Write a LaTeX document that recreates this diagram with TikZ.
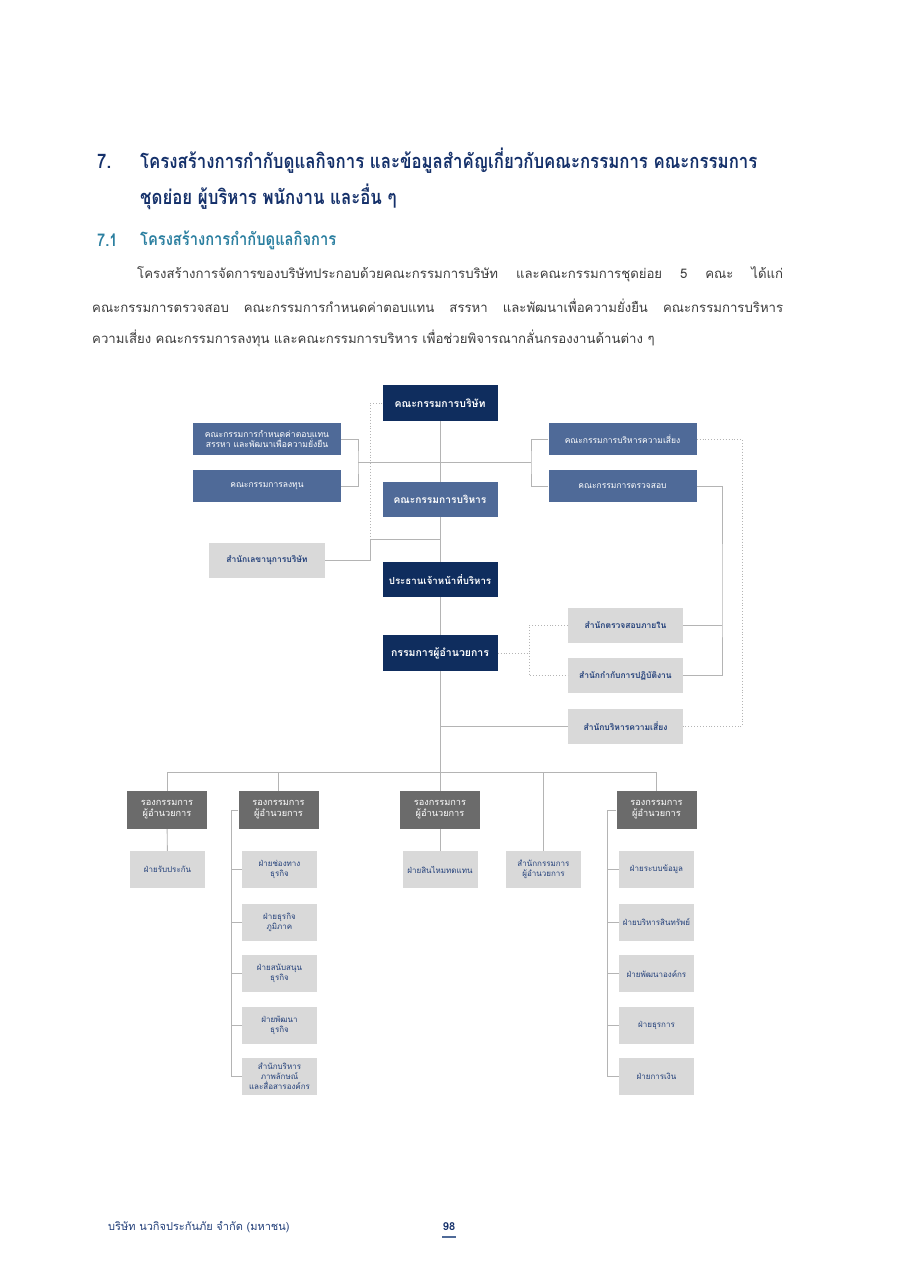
\documentclass[tikz,border=0pt]{standalone}
\usepackage{fontspec}
\setmainfont{Loma}[Script=Thai]
\newfontfamily\headfont{Loma}[Script=Thai, FakeStretch=0.84]
\usepackage{tikz}
\usetikzlibrary{calc,positioning}
\definecolor{navy}{HTML}{0F2D5E}
\definecolor{steel}{HTML}{4F6A98}
\definecolor{lightgrey}{HTML}{D9D9D9}
\definecolor{darkgrey}{HTML}{6B6B6B}
\definecolor{linegrey}{HTML}{B4B4B4}
\definecolor{headnavy}{HTML}{14306A}
\definecolor{subteal}{HTML}{2B7FA0}
\definecolor{bodytext}{HTML}{3C3C3C}
\definecolor{unittext}{HTML}{23407A}

\begin{document}
\begin{tikzpicture}[x=1pt, y=-1pt, every node/.style={align=center, inner sep=0pt},
  navybox/.style={fill=navy, text=white, font=\bfseries\fontsize{10.5}{12}\selectfont, minimum width=115pt, minimum height=36pt},
  steelbox/.style={fill=steel, text=white, font=\fontsize{8.5}{9}\selectfont, minimum width=148pt, minimum height=32pt},
  officebox/.style={fill=lightgrey, text=unittext, font=\bfseries\fontsize{8.5}{10}\selectfont, minimum width=115pt, minimum height=35pt},
  vpbox/.style={fill=darkgrey, text=white, font=\fontsize{9.2}{11}\selectfont, minimum width=80pt, minimum height=38pt},
  unitbox/.style={fill=lightgrey, text=unittext, font=\fontsize{8}{10}\selectfont, minimum width=75pt, minimum height=37pt},
  conn/.style={draw=linegrey, line width=0.9pt},
  dotconn/.style={draw=linegrey, line width=0.9pt, dotted}]
\fill[white] (0,0) rectangle (906,1280);
\useasboundingbox (0,0) rectangle (906,1280);

% heading and text
\node[anchor=west, text=headnavy, font=\headfont\bfseries\fontsize{20}{24}\selectfont] (h7) at (97,161) {7.};
\node[anchor=west, text=headnavy, font=\headfont\bfseries\fontsize{20}{24}\selectfont] (h7a) at (140,161) {โครงสร้างการกำกับดูแลกิจการ และข้อมูลสำคัญเกี่ยวกับคณะกรรมการ คณะกรรมการ};
\node[anchor=west, text=headnavy, font=\headfont\bfseries\fontsize{20}{24}\selectfont] (h7b) at (140,197) {ชุดย่อย ผู้บริหาร พนักงาน และอื่น ๆ};
\node[anchor=west, text=subteal, font=\headfont\bfseries\fontsize{17.5}{20}\selectfont] (h71) at (97,240) {7.1};
\node[anchor=west, text=subteal, font=\headfont\bfseries\fontsize{17.5}{20}\selectfont] (h71a) at (140,240) {โครงสร้างการกำกับดูแลกิจการ};
\node[anchor=west, text=bodytext, font=\fontsize{13.2}{15}\selectfont] (p1) at (137,274)
  {\makebox[646pt][s]{โครงสร้างการจัดการของบริษัทประกอบด้วยคณะกรรมการบริษัท และคณะกรรมการชุดย่อย  5 คณะ ได้แก่}};
\node[anchor=west, text=bodytext, font=\fontsize{13.2}{15}\selectfont] (p2) at (92,306)
  {\makebox[691pt][s]{คณะกรรมการตรวจสอบ คณะกรรมการกำหนดค่าตอบแทน สรรหา และพัฒนาเพื่อความยั่งยืน คณะกรรมการบริหาร}};
\node[anchor=west, text=bodytext, font=\fontsize{13.2}{15}\selectfont] (p3) at (92,338)
  {ความเสี่ยง คณะกรรมการลงทุน และคณะกรรมการบริหาร เพื่อช่วยพิจารณากลั่นกรองงานด้านต่าง ๆ};

% board and committees
\node[navybox] (board) at (440,403) {คณะกรรมการบริษัท};
\node[steelbox, font=\fontsize{8.6}{8.8}\selectfont] (rem) at (267,439) {คณะกรรมการกำหนดค่าตอบแทน\\สรรหา และพัฒนาเพื่อความยั่งยืน};
\node[steelbox] (inv) at (267,486) {คณะกรรมการลงทุน};
\node[steelbox] (risk) at (622.5,439) {คณะกรรมการบริหารความเสี่ยง};
\node[steelbox] (audit) at (622.5,486) {คณะกรรมการตรวจสอบ};
\node[steelbox, font=\bfseries\fontsize{10.2}{12}\selectfont, minimum width=115pt, minimum height=35pt] (exec) at (440,499.5) {คณะกรรมการบริหาร};
\node[officebox, minimum width=116pt] (sec) at (267,560) {สำนักเลขานุการบริษัท};
\node[navybox, minimum height=35pt, font=\bfseries\fontsize{9.7}{12}\selectfont] (ceo) at (440,579.5) {ประธานเจ้าหน้าที่บริหาร};
\node[navybox] (md) at (440,653) {กรรมการผู้อำนวยการ};
\node[officebox] (ia) at (625.5,625.5) {สำนักตรวจสอบภายใน};
\node[officebox] (comp) at (625.5,675.5) {สำนักกำกับการปฏิบัติงาน};
\node[officebox] (rmo) at (625.5,726.5) {สำนักบริหารความเสี่ยง};

% deputy managing directors
\node[vpbox] (vp1) at (167,810) {รองกรรมการ\\ผู้อำนวยการ};
\node[vpbox] (vp2) at (278.5,810) {รองกรรมการ\\ผู้อำนวยการ};
\node[vpbox] (vp3) at (440,810) {รองกรรมการ\\ผู้อำนวยการ};
\node[vpbox] (vp4) at (656.5,810) {รองกรรมการ\\ผู้อำนวยการ};

% departments
\node[unitbox] (uw) at (167.5,869.5) {ฝ่ายรับประกัน};
\node[unitbox] (chan) at (279.5,869.5) {ฝ่ายช่องทาง\\ธุรกิจ};
\node[unitbox] (regn) at (279.5,922.5) {ฝ่ายธุรกิจ\\ภูมิภาค};
\node[unitbox] (supp) at (279.5,973.5) {ฝ่ายสนับสนุน\\ธุรกิจ};
\node[unitbox] (bdev) at (279.5,1025) {ฝ่ายพัฒนา\\ธุรกิจ};
\node[unitbox] (brand) at (279.5,1076) {สำนักบริหาร\\ภาพลักษณ์\\และสื่อสารองค์กร};
\node[unitbox] (claim) at (440,869.5) {ฝ่ายสินไหมทดแทน};
\node[unitbox] (mdo) at (543.5,869.5) {สำนักกรรมการ\\ผู้อำนวยการ};
\node[unitbox] (it) at (656.5,869.5) {ฝ่ายระบบข้อมูล};
\node[unitbox] (asset) at (656.5,922.5) {ฝ่ายบริหารสินทรัพย์};
\node[unitbox] (orgd) at (656.5,973.5) {ฝ่ายพัฒนาองค์กร};
\node[unitbox] (admin) at (656.5,1025) {ฝ่ายธุรการ};
\node[unitbox] (fin) at (656.5,1076) {ฝ่ายการเงิน};

% connectors
\coordinate (lj) at (358,462);
\coordinate (rj) at (531,462);
\coordinate (sj) at (370,539);
\coordinate (dj) at (529,650);
\coordinate (aj) at (722,600);
\coordinate (rk) at (742,600);
\coordinate (bus) at (440,772);
\coordinate (c2) at (231,810);
\coordinate (c4) at (607,810);
\draw[conn] (board) -- (exec) -- (ceo) -- (md) -- (vp3) -- (claim);
\draw[conn] (rem.east) -| (lj) |- (inv.east);
\draw[conn] (risk.west) -| (rj) |- (audit.west);
\draw[conn] (lj) -- (rj);
\draw[conn] (sec.east) -| (sj) -- (board |- sj);
\draw[dotconn] (board.west) -| (sj);
\draw[dotconn] (md.east) -- (md.east -| dj);
\draw[dotconn] (ia.west) -| (dj) |- (comp.west);
\draw[conn] (audit.east) -| (aj) |- (comp.east);
\draw[conn] (ia.east) -- (ia.east -| aj);
\draw[dotconn] (risk.east) -| (rk) |- (rmo.east);
\draw[conn] (rmo.west) -- (rmo.west -| md.south);
\draw[conn] (vp1.north) |- (bus) -| (vp4.north);
\draw[conn] (vp2.north) -- (vp2.north |- bus);
\draw[conn] (mdo.north) -- (mdo.north |- bus);
\draw[conn] (vp1) -- (uw);
\draw[conn] (vp2.west) -| (c2) |- (brand.west);
\foreach \u in {chan,regn,supp,bdev}
  \draw[conn] (c2 |- \u.west) -- (\u.west);
\draw[conn] (vp4.west) -| (c4) |- (fin.west);
\foreach \u in {it,asset,orgd,admin}
  \draw[conn] (c4 |- \u.west) -- (\u.west);

% footer
\node[anchor=west, text=unittext, font=\fontsize{11}{13}\selectfont] (foot) at (108,1227) {บริษัท นวกิจประกันภัย จำกัด (มหาชน)};
\node[text=headnavy, font=\bfseries\fontsize{11}{13}\selectfont] (page) at (449,1227) {98};
\draw[steel, line width=1.6pt] (442,1237) -- (456,1237);
\end{tikzpicture}
\end{document}
